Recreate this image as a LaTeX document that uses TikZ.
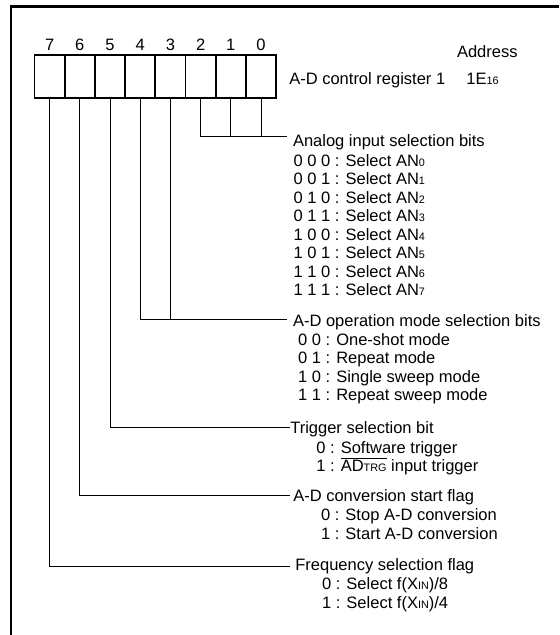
\documentclass[tikz,border=0pt]{standalone}
\usepackage{fontspec}
\setmainfont{Liberation Sans}
\usepackage{tikz}
\usetikzlibrary{positioning}
\newcommand\regfont{\fontsize{9.9}{11.1}\selectfont}
\newcommand\lowsize[1]{{\fontsize{6.5}{7}\selectfont #1}}
\tikzset{
  bitcell/.style={
    rectangle,
    draw,
    line width=1pt,
    minimum width=18.12pt,
    minimum height=25.8pt,
    inner sep=0pt
  },
  bitnum/.style={inner sep=0pt, font=\regfont},
  heading/.style={anchor=base west, inner sep=0pt, font=\regfont},
  choices/.style={anchor=north west, inner sep=0pt, align=left, font=\regfont},
  wire/.style={line width=0.6pt},
  frameline/.style={line width=1.4pt}
}

\begin{document}
\begin{tikzpicture}[x=0.6pt, y=-0.6pt]
\useasboundingbox (0,0) rectangle (559,635);
\draw[frameline] (11,635) -- (11,6.5) -- (559,6.5);
% register cells and bit numbers
\foreach \b in {0,...,7} {
  \node[bitcell] (cell\b) at ({261-30.2*\b},76.5) {};
  \node[bitnum] (num\b) at ({261-30.2*\b},45) {\b};
}
\node[heading] (addr) at (456.7,57.7) {Address};
\node[heading] (regname) at (289,84) {A-D control register 1};
\node[heading] (addrval) at (466,84) {1E\lowsize{16}};
% bit descriptions
\node[heading] (analog) at (292.7,146) {Analog input selection bits};
\node[choices] (analoglist) at (293.3,154.2) {0 0 0 : Select AN\lowsize{0}\\0 0 1 : Select AN\lowsize{1}\\0 1 0 : Select AN\lowsize{2}\\0 1 1 : Select AN\lowsize{3}\\1 0 0 : Select AN\lowsize{4}\\1 0 1 : Select AN\lowsize{5}\\1 1 0 : Select AN\lowsize{6}\\1 1 1 : Select AN\lowsize{7}};
\node[heading] (opmode) at (292.7,326) {A-D operation mode selection bits};
\node[choices] (opmodelist) at (297.7,333.2) {0 0 : One-shot mode\\0 1 : Repeat mode\\1 0 : Single sweep mode\\1 1 : Repeat sweep mode};
\node[heading] (trigger) at (290,433) {Trigger selection bit};
\node[choices] (triggerlist) at (316,440.9) {0 : Software trigger\\1 : $\overline{\mbox{AD\lowsize{TRG}}}$ input trigger};
\node[heading] (startflag) at (293,501.7) {A-D conversion start flag};
\node[choices] (startlist) at (320.7,508.5) {0 : Stop A-D conversion\\1 : Start A-D conversion};
\node[heading] (freqsel) at (295,570) {Frequency selection flag};
\node[choices] (freqlist) at (321.7,577.5) {0 : Select f(X\lowsize{IN})/8\\1 : Select f(X\lowsize{IN})/4};
% wires
\coordinate (analogjoin) at (287,136);
\coordinate (opjoin) at (287,319.5);
\coordinate (trigjoin) at (290,427.3);
\coordinate (startjoin) at (290,495.3);
\coordinate (freqjoin) at (290,566);
\draw[wire] (cell2.south) |- (analogjoin);
\draw[wire] (cell1.south) -- (cell1.south |- analogjoin);
\draw[wire] (cell0.south) -- (cell0.south |- analogjoin);
\draw[wire] (cell4.south) |- (opjoin);
\draw[wire] (cell3.south) -- (cell3.south |- opjoin);
\draw[wire] (cell5.south) |- (trigjoin);
\draw[wire] (cell6.south) |- (startjoin);
\draw[wire] (cell7.south) |- (freqjoin);
\end{tikzpicture}
\end{document}
